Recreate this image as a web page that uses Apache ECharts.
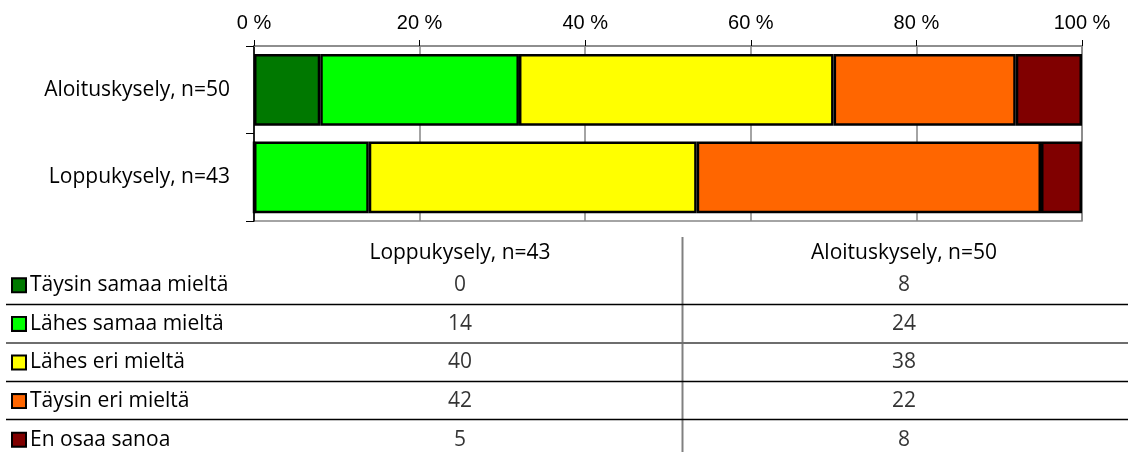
<!DOCTYPE html>
<html>
<head>
<meta charset="utf-8">
<script src="https://cdn.jsdelivr.net/npm/echarts@6/dist/echarts.min.js"></script>
<style>
html,body{margin:0;padding:0;background:#fff;}
#c{width:1133px;height:452px;}
</style>
</head>
<body>
<div id="c"></div>
<script>
// ---- data ----
const categories = ['Aloituskysely, n=50', 'Loppukysely, n=43'];
const seriesNames = ['Täysin samaa mieltä', 'Lähes samaa mieltä', 'Lähes eri mieltä', 'Täysin eri mieltä', 'En osaa sanoa'];
const aloitus = [8, 24, 38, 22, 8];
const loppu = [0, 14, 40, 42, 5];
const tableColumns = ['Loppukysely, n=43', 'Aloituskysely, n=50'];
const xTickMin = 0, xTickMax = 100, xTickStep = 20;
const colors = ['#007800', '#00FF00', '#FFFF00', '#FF6600', '#800000'];

// ---- build ----
const sumA = aloitus.reduce((a, b) => a + b, 0);
const sumL = loppu.reduce((a, b) => a + b, 0);
const pctA = aloitus.map(v => v / sumA * 100);
const pctL = loppu.map(v => v / sumL * 100);

const txtFont = 'Open Sans';
const txtSize = 21;

const barSeries = seriesNames.map((name, i) => ({
  name: name,
  type: 'bar',
  stack: 'total',
  xAxisIndex: 0,
  yAxisIndex: 0,
  barWidth: '82%',
  data: [pctA[i], pctL[i]],
  itemStyle: { color: colors[i], borderColor: '#000', borderWidth: 2.5 },
  emphasis: { disabled: true },
  silent: true
}));

const tableData = [];
seriesNames.forEach((name, i) => {
  tableData.push([tableColumns[0], name, loppu[i]]);
  tableData.push([tableColumns[1], name, aloitus[i]]);
});

const rich = { t: { fontFamily: txtFont, fontSize: txtSize, color: '#000', padding: [0, 0, 0, 5] } };
colors.forEach((c, i) => {
  rich['s' + i] = { width: 12, height: 12, backgroundColor: c, borderColor: '#000', borderWidth: 2 };
});

const option = {
  animation: false,
  backgroundColor: '#fff',
  grid: [
    { left: 254, right: 51, top: 46, height: 175, show: true, borderColor: '#868686', borderWidth: 1.5, outerBoundsMode: 'none', containLabel: false },
    { left: 238, right: 7, top: 266, height: 193, outerBoundsMode: 'none', containLabel: false }
  ],
  xAxis: [
    {
      type: 'value', gridIndex: 0, position: 'top',
      min: xTickMin, max: xTickMax, interval: xTickStep,
      axisLine: { show: true, lineStyle: { color: '#868686', width: 1.5 } },
      axisTick: { show: true, length: 6, lineStyle: { color: '#000', width: 1 } },
      splitLine: { show: true, lineStyle: { color: '#868686', width: 1.5 } },
      axisLabel: { formatter: '{value} %', fontFamily: 'Liberation Sans', fontSize: 20, color: '#000', margin: 13 }
    },
    {
      type: 'category', gridIndex: 1, position: 'top', data: tableColumns,
      axisLine: { show: false }, axisTick: { show: false }, splitLine: { show: false },
      axisLabel: { fontFamily: txtFont, fontSize: txtSize, color: '#000', margin: 2 }
    }
  ],
  yAxis: [
    {
      type: 'category', gridIndex: 0, data: categories, inverse: true,
      axisLine: { show: true, lineStyle: { color: '#000', width: 1.5 } },
      axisTick: { show: true, length: 8, lineStyle: { color: '#000', width: 1 } },
      axisLabel: { fontFamily: txtFont, fontSize: txtSize, color: '#000', margin: 24 }
    },
    {
      type: 'category', gridIndex: 1, data: seriesNames, inverse: true,
      axisLine: { show: false }, axisTick: { show: false }, splitLine: { show: false },
      axisLabel: {
        align: 'left', margin: 225,
        formatter: (v) => '{s' + seriesNames.indexOf(v) + '|}{t|' + v + '}',
        rich: rich
      }
    }
  ],
  series: barSeries.concat([{
    type: 'scatter',
    xAxisIndex: 1, yAxisIndex: 1,
    symbolSize: 1,
    itemStyle: { color: 'rgba(0,0,0,0)' },
    silent: true,
    label: {
      show: true, position: 'inside',
      formatter: (p) => String(p.value[2]),
      fontFamily: txtFont, fontSize: txtSize, color: '#000'
    },
    data: tableData
  }]),
  graphic: [
    { type: 'line', shape: { x1: 682.5, y1: 237, x2: 682.5, y2: 452 }, style: { stroke: '#808080', lineWidth: 2 }, silent: true },
    { type: 'line', shape: { x1: 6, y1: 304.5, x2: 1128, y2: 304.5 }, style: { stroke: '#000', lineWidth: 1.5 }, silent: true },
    { type: 'line', shape: { x1: 6, y1: 343, x2: 1128, y2: 343 }, style: { stroke: '#6e6e6e', lineWidth: 2 }, silent: true },
    { type: 'line', shape: { x1: 6, y1: 381.5, x2: 1128, y2: 381.5 }, style: { stroke: '#000', lineWidth: 1.5 }, silent: true },
    { type: 'line', shape: { x1: 6, y1: 419.5, x2: 1128, y2: 419.5 }, style: { stroke: '#000', lineWidth: 1.5 }, silent: true }
  ]
};

const chart = echarts.init(document.getElementById('c'), null, { renderer: 'canvas' });
chart.setOption(option);
</script>
</body>
</html>
